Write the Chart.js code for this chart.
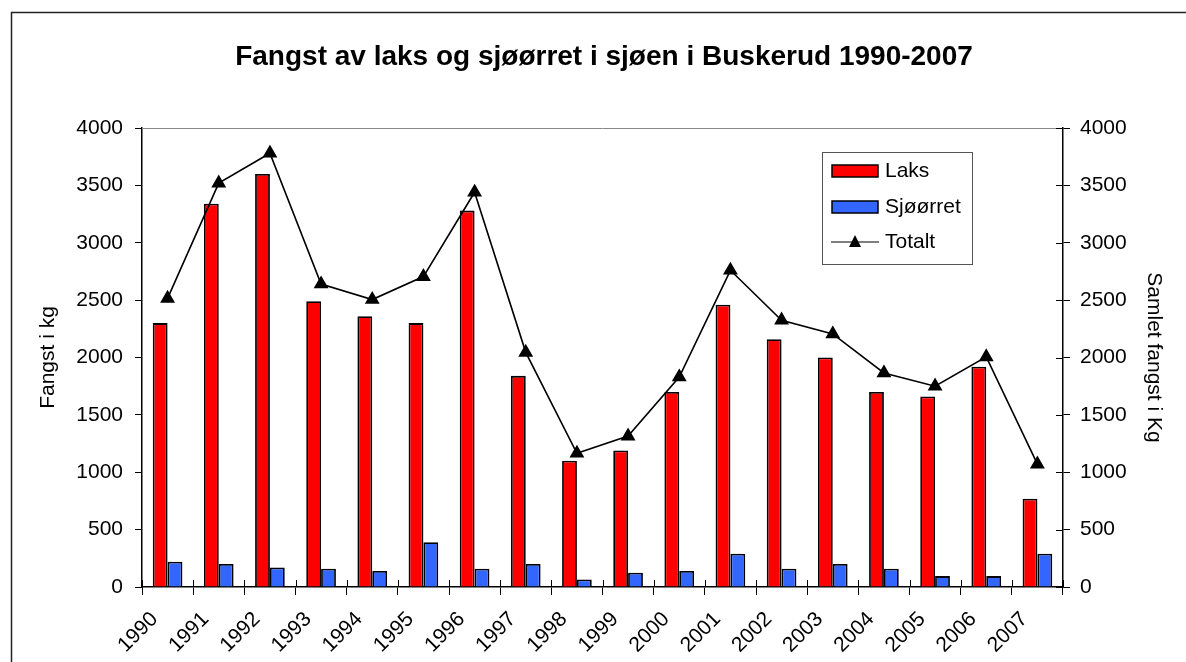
<!DOCTYPE html>
<html>
<head>
<meta charset="utf-8">
<script src="https://cdn.jsdelivr.net/npm/chart.js@4/dist/chart.umd.min.js"></script>
<style>
    html, body { margin: 0; padding: 0; background: #fff; }
    #wrap { position: relative; width: 1186px; height: 662px; }
</style>
</head>
<body>
<div id="wrap"><canvas id="chart" width="1186" height="662"></canvas></div>
<script>
const years = ['1990', '1991', '1992', '1993', '1994', '1995', '1996', '1997', '1998',
    '1999', '2000', '2001', '2002', '2003', '2004', '2005', '2006', '2007'];
const laks = [2300, 3340, 3600, 2490, 2360, 2300, 3280, 1840, 1100,
    1190, 1700, 2460, 2160, 2000, 1700, 1660, 1920, 770];
const sjoorret = [220, 200, 170, 160, 140, 390, 160, 200, 65,
    125, 140, 290, 160, 200, 160, 95, 95, 290];
const totalt = [2515, 3520, 3780, 2640, 2505, 2705, 3440, 2045, 1165,
    1315, 1830, 2760, 2325, 2205, 1865, 1750, 2005, 1070];
const yTicks = [0, 500, 1000, 1500, 2000, 2500, 3000, 3500, 4000];

const FONT = 'Liberation Sans, Arial, sans-serif';
const FS = 21;

// frame, title, plot border and the legend box
const decor = {
    id: 'decor',
    beforeDraw(chart) {
        const c = chart.ctx;
        c.save();
        c.strokeStyle = '#222';
        c.lineWidth = 1.5;
        c.strokeRect(11.5, 12.5, 1400, 1000);
        c.restore();
    },
    afterDraw(chart) {
        const c = chart.ctx;
        const a = chart.chartArea;
        c.save();
        c.fillStyle = '#000';
        c.font = 'bold 28px ' + FONT;
        c.textAlign = 'center';
        c.textBaseline = 'middle';
        c.fillText('Fangst av laks og sjøørret i sjøen i Buskerud 1990-2007', 604, 57);

        // grey top edge of the plot area
        c.strokeStyle = '#888';
        c.lineWidth = 1;
        c.beginPath();
        c.moveTo(a.left, a.top + 0.5);
        c.lineTo(a.right, a.top + 0.5);
        c.stroke();

        // cross tick marks on the category axis (inner half)
        const x = chart.scales.x;
        c.strokeStyle = '#000';
        for (let i = 0; i <= years.length; i++) {
            const px = Math.round(x.left + i * (x.right - x.left) / years.length) + 0.5;
            c.beginPath();
            c.moveTo(px, a.bottom);
            c.lineTo(px, a.bottom - 7);
            c.stroke();
        }
        // right axis ticks cross too
        const y2 = chart.scales.y2;
        yTicks.forEach(v => {
            const py = Math.round(y2.getPixelForValue(v)) + 0.5;
            c.beginPath();
            c.moveTo(a.right - 7, py);
            c.lineTo(a.right, py);
            c.stroke();
        });

        // legend
        const lx = 822, ly = 152, lw = 150, lh = 112;
        c.fillStyle = '#fff';
        c.fillRect(lx, ly, lw, lh);
        c.strokeStyle = '#555';
        c.lineWidth = 1;
        c.strokeRect(lx + 0.5, ly + 0.5, lw, lh);
        c.font = FS + 'px ' + FONT;
        c.textAlign = 'left';
        c.textBaseline = 'middle';
        const ds = chart.data.datasets;
        const rows = [ly + 19, ly + 55, ly + 90];
        ds.forEach((d, i) => {
            const ry = rows[i];
            if (d.type === 'line') {
                c.strokeStyle = '#000';
                c.lineWidth = 1.2;
                c.beginPath();
                c.moveTo(lx + 9, ry);
                c.lineTo(lx + 57, ry);
                c.stroke();
                c.fillStyle = '#000';
                c.beginPath();
                c.moveTo(lx + 33, ry - 7);
                c.lineTo(lx + 39, ry + 5);
                c.lineTo(lx + 27, ry + 5);
                c.closePath();
                c.fill();
            } else {
                c.fillStyle = d.backgroundColor;
                c.fillRect(lx + 10, ry - 6, 46, 12);
                c.strokeStyle = '#000';
                c.lineWidth = 1.5;
                c.strokeRect(lx + 10, ry - 6, 46, 12);
            }
            c.fillStyle = '#000';
            c.fillText(d.label, lx + 63, ry);
        });
        c.restore();
    }
};

new Chart(document.getElementById('chart'), {
    type: 'bar',
    data: {
        labels: years,
        datasets: [
            {
                label: 'Laks',
                data: laks,
                backgroundColor: '#ff0000',
                borderColor: '#000',
                borderWidth: 1.8,
                yAxisID: 'y',
                order: 2
            },
            {
                label: 'Sjøørret',
                data: sjoorret,
                backgroundColor: '#3366ff',
                borderColor: '#000',
                borderWidth: 1.8,
                yAxisID: 'y',
                order: 2
            },
            {
                type: 'line',
                label: 'Totalt',
                data: totalt,
                borderColor: '#000',
                borderWidth: 1.6,
                pointStyle: 'triangle',
                pointRadius: 7,
                pointBackgroundColor: '#000',
                pointBorderColor: '#000',
                yAxisID: 'y2',
                order: 1
            }
        ]
    },
    options: {
        responsive: false,
        animation: false,
        layout: { padding: { top: 128, left: 0, right: 0, bottom: 0 } },
        datasets: { bar: { categoryPercentage: 0.58, barPercentage: 1 } },
        plugins: {
            legend: { display: false },
            title: { display: false },
            tooltip: { enabled: false }
        },
        scales: {
            x: {
                grid: { display: true, drawOnChartArea: false, offset: true, color: '#000', tickLength: 8 },
                border: { color: '#000', width: 1.5 },
                ticks: {
                    color: '#000',
                    font: { family: FONT, size: FS },
                    maxRotation: 45,
                    minRotation: 45,
                    autoSkip: false,
                    padding: 12,
                    labelOffset: -13
                },
                afterFit(s) { s.height = 75; }
            },
            y: {
                position: 'left',
                min: 0,
                max: 4000,
                afterBuildTicks(s) { s.ticks = yTicks.map(v => ({ value: v })); },
                grid: { display: true, drawOnChartArea: false, color: '#000', tickLength: 7 },
                border: { color: '#000', width: 1.5 },
                ticks: {
                    color: '#000',
                    font: { family: FONT, size: FS },
                    padding: 12,
                    callback: v => String(v)
                },
                title: {
                    display: true,
                    text: 'Fangst i kg',
                    color: '#000',
                    font: { family: FONT, size: FS },
                    padding: { top: 36, bottom: 0 }
                },
                afterFit(s) { s.width = 142; }
            },
            y2: {
                position: 'right',
                min: 0,
                max: 4000,
                afterBuildTicks(s) { s.ticks = yTicks.map(v => ({ value: v })); },
                grid: { display: true, drawOnChartArea: false, color: '#000', tickLength: 7 },
                border: { color: '#000', width: 1.5 },
                ticks: {
                    color: '#000',
                    font: { family: FONT, size: FS },
                    padding: 10,
                    callback: v => String(v)
                },
                title: {
                    display: true,
                    text: 'Samlet fangst i Kg',
                    color: '#000',
                    font: { family: FONT, size: FS },
                    padding: { top: 20, bottom: 0 }
                },
                afterFit(s) { s.width = 123; }
            }
        }
    },
    plugins: [decor]
});
</script>
</body>
</html>
